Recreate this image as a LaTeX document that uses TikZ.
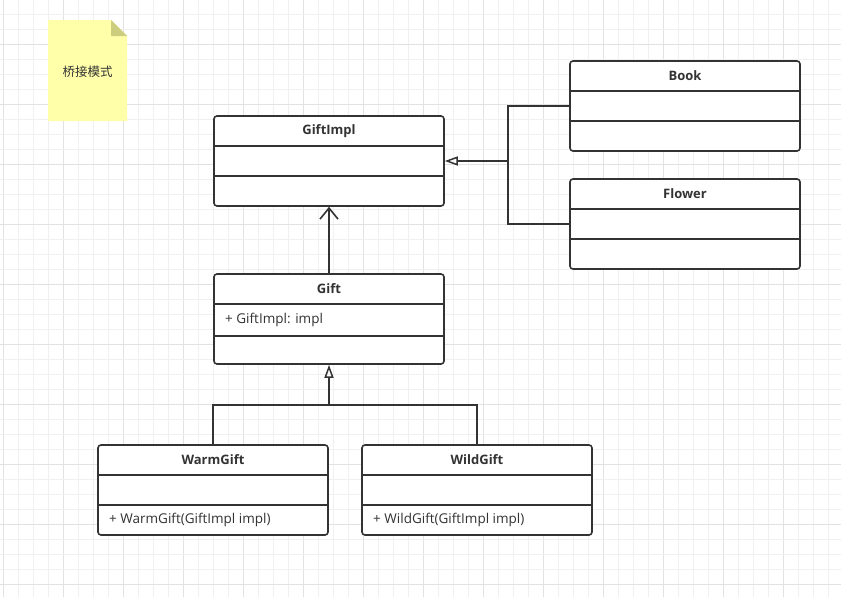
\documentclass[tikz,border=0pt]{standalone}
\usepackage{fontspec}
\setmainfont{Open Sans}
\newfontfamily\cjk{Noto Sans CJK SC}
\usetikzlibrary{arrows.meta}
\definecolor{ink}{HTML}{333333}
\definecolor{gridminor}{HTML}{F0F0F0}
\definecolor{gridmajor}{HTML}{E2E2E2}
\definecolor{notefill}{HTML}{FFFFAA}
\definecolor{notefold}{HTML}{CDCD7F}
\tikzset{
  umlbox/.style={draw=ink, line width=1.6pt, rounded corners=3pt, fill=white,
    minimum width=230pt, minimum height=90pt, inner sep=0pt},
  divider/.style={draw=ink, line width=1.6pt},
  title/.style={font=\fontsize{13}{15}\selectfont\bfseries, text=ink, inner sep=0pt},
  member/.style={font=\fontsize{13.5}{15}\selectfont, text=ink, inner sep=0pt, anchor=west},
  conn/.style={draw=ink, line width=1.6pt},
  gen/.style={conn, -{Triangle[open, length=13pt, width=9pt, line width=1.5pt]}},
  dep/.style={conn, -{Straight Barb[length=11pt, width=18pt, line width=1.6pt]}},
}
\begin{document}
\begin{tikzpicture}[x=1pt, y=-1pt]
\useasboundingbox (0,0) rectangle (841,597);
\fill[white] (0,0) rectangle (841,597);
% grid
\foreach \i in {0,...,55} {
  \pgfmathtruncatemacro{\xx}{3+15*\i}
  \pgfmathtruncatemacro{\mm}{mod(\i,4)}
  \ifnum\mm=0
    \draw[gridmajor, line width=1pt] (\xx,0) -- (\xx,597);
  \else
    \draw[gridminor, line width=1pt] (\xx,0) -- (\xx,597);
  \fi
}
\foreach \i in {0,...,39} {
  \pgfmathtruncatemacro{\yy}{14+15*\i}
  \pgfmathtruncatemacro{\mm}{mod(\i,4)}
  \ifnum\mm=2
    \draw[gridmajor, line width=1pt] (0,\yy) -- (841,\yy);
  \else
    \draw[gridminor, line width=1pt] (0,\yy) -- (841,\yy);
  \fi
}
% note
\fill[notefill] (48,20) -- (111,20) -- (127,36) -- (127,121) -- (48,121) -- cycle;
\fill[notefold] (111,20) -- (127,36) -- (111,36) -- cycle;
\node[text=ink, font=\cjk\fontsize{12.5}{14}\selectfont, inner sep=0pt] (note) at (87.5,72) {桥接模式};

% classes
\node[umlbox] (giftimpl) at (329,161) {};
\draw[divider] (214,146) -- (444,146);
\draw[divider] (214,176) -- (444,176);
\node[title] (giftimplT) at (329,131) {GiftImpl};

\node[umlbox] (book) at (685,106) {};
\draw[divider] (570,91) -- (800,91);
\draw[divider] (570,121) -- (800,121);
\node[title] (bookT) at (685,76) {Book};

\node[umlbox] (flower) at (685,224) {};
\draw[divider] (570,209) -- (800,209);
\draw[divider] (570,239) -- (800,239);
\node[title] (flowerT) at (685,194) {Flower};

\node[umlbox] (gift) at (329,319) {};
\draw[divider] (214,304) -- (444,304);
\draw[divider] (214,336) -- (444,336);
\node[title] (giftT) at (329,289) {Gift};
\node[member] (giftA) at (225,320) {+ GiftImpl: impl};

\node[umlbox] (warm) at (213,490) {};
\draw[divider] (98,475) -- (328,475);
\draw[divider] (98,505) -- (328,505);
\node[title] (warmT) at (213,460) {WarmGift};
\node[member] (warmM) at (109,520) {+ WarmGift(GiftImpl impl)};

\node[umlbox] (wild) at (477,490) {};
\draw[divider] (362,475) -- (592,475);
\draw[divider] (362,505) -- (592,505);
\node[title] (wildT) at (477,460) {WildGift};
\node[member] (wildM) at (373,520) {+ WildGift(GiftImpl impl)};

% connectors
\coordinate (jr) at (508,161);
\coordinate (jb) at (329,405);
\draw[conn] (book.west) -- (book.west -| jr) -- (flower.west -| jr) -- (flower.west);
\draw[gen] (jr) -- (giftimpl.east);
\draw[dep] (gift.north) -- (giftimpl.south);
\draw[conn] (warm.north) -- (warm.north |- jb) -- (wild.north |- jb) -- (wild.north);
\draw[gen] (jb) -- (gift.south);
\end{tikzpicture}
\end{document}
